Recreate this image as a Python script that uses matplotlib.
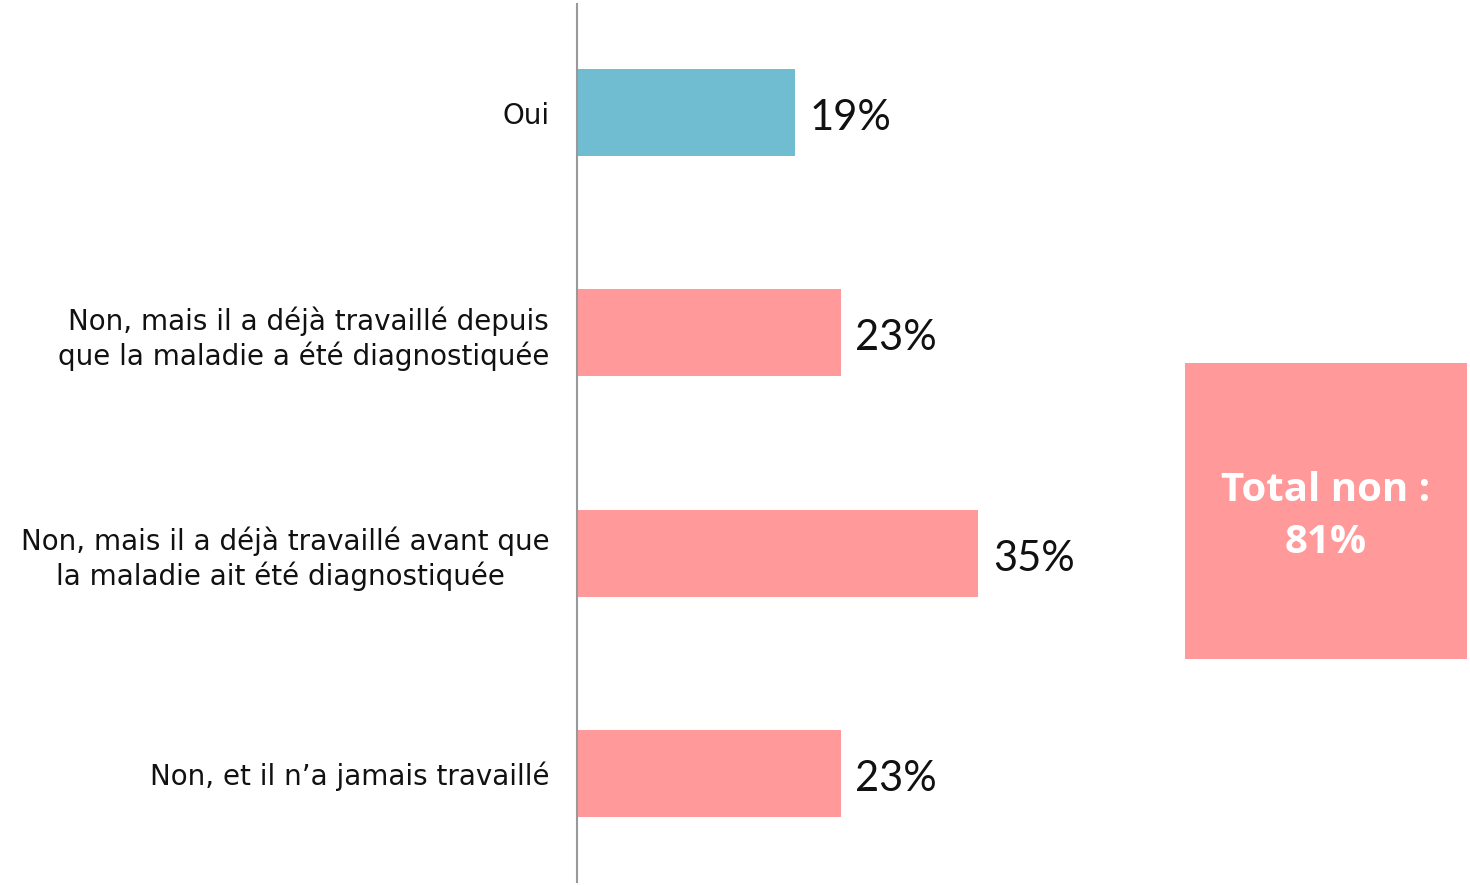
import matplotlib
matplotlib.use("Agg")
import matplotlib.pyplot as plt
from matplotlib.patches import Rectangle

categories = [
    "Oui",
    "Non, mais il a déjà travaillé depuis\nque la maladie a été diagnostiquée",
    "Non, mais il a déjà travaillé avant que\nla maladie ait été diagnostiquée\u00a0\u00a0\u00a0\u00a0\u00a0",
    "Non, et il n\u2019a jamais travaillé",
]
values = [19, 23, 35, 23]
value_labels = ["19%", "23%", "35%", "23%"]
colors = ["#70BCD0", "#FF999A", "#FF999A", "#FF999A"]
total_text = "Total non :\n81%"

plt.rcParams['font.family'] = ['DejaVu Sans']

fig = plt.figure(figsize=(14.7, 8.86), dpi=100)
ax = fig.add_axes([577 / 1470, 4 / 886, 1 - 577 / 1470, 878 / 886])

y = list(range(len(categories)))
ax.barh(y, values, height=0.395, color=colors)
ax.set_ylim(3.493, -0.493)
ax.set_xlim(0, 893 / 11.46)

for yi, v, lab in zip(y, values, value_labels):
    ax.text(v + 1.3, yi + 0.025, lab, va="center", ha="left", fontsize=30,
            color="#111111", family=["Lato", "DejaVu Sans"])

ax.set_yticks(y)
ax.set_yticklabels(categories, fontsize=20, color="#111111", multialignment="right",
                   linespacing=1.22)
ax.tick_params(axis="y", length=0, pad=20)
ax.set_xticks([])
for s in ["top", "right", "bottom"]:
    ax.spines[s].set_visible(False)
ax.spines["left"].set_color("#999999")
ax.spines["left"].set_linewidth(1.5)

# Total box
bx0, by0, bw, bh = 1185 / 1470, 1 - 659 / 886, 282 / 1470, 296 / 886
fig.patches.append(Rectangle((bx0, by0), bw, bh, transform=fig.transFigure,
                             facecolor="#FF999A", edgecolor="none"))
fig.text(bx0 + bw / 2, by0 + bh / 2 - 0.006, total_text, ha="center", va="center",
         fontsize=29, fontweight="bold", color="white", linespacing=1.45,
         family=["Open Sans", "DejaVu Sans"])

fig.savefig("out.png", dpi=100)
